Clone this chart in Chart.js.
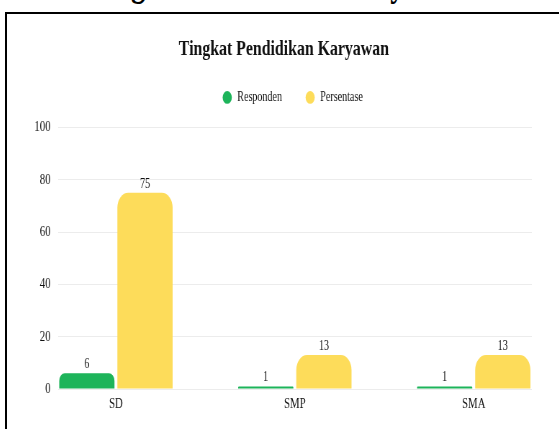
<!DOCTYPE html>
<html>
<head>
<meta charset="utf-8">
<script src="https://cdn.jsdelivr.net/npm/chart.js@4.4.1/dist/chart.umd.min.js"></script>
<style>
  body { margin: 0; width: 559px; height: 429px; overflow: hidden; background: #fff; position: relative; }
  #head {
    position: absolute; left: 0; top: -38px; width: 776px;
    transform: scaleX(0.72); transform-origin: 0 0;
    text-align: center; font: bold 40px/40px 'Liberation Serif', serif; color: #000; white-space: nowrap;
  }
  #box {
    position: absolute; left: 5px; top: 12px; width: 570px; height: 440px;
    border-top: 2px solid #000; border-left: 2px solid #000;
  }
  #inner { width: 767px; height: 415px; transform: scaleX(0.72); transform-origin: 0 0; }
</style>
</head>
<body>
<div id="head">Tingkat Pendidikan Karyawan</div>
<div id="box"><div id="inner"><canvas id="mycanvas"></canvas></div></div>
<script>
const categories = ['SD', 'SMP', 'SMA'];
const responden = [6, 1, 1];
const persentase = [75, 13, 13];
const yTicks = [0, 20, 40, 60, 80, 100];

Chart.defaults.font.family = "'Liberation Serif', serif";
Chart.defaults.color = '#111';

// value above each bar
const valueLabels = {
  id: 'valueLabels',
  afterDatasetsDraw(chart) {
    let ctx = chart.ctx;
    ctx.save();
    ctx.font = "14px 'Liberation Serif'";
    ctx.fillStyle = '#111';
    ctx.textAlign = 'center';
    ctx.textBaseline = 'alphabetic';
    chart.data.datasets.forEach((ds, i) => {
      chart.getDatasetMeta(i).data.forEach((bar, j) => {
        ctx.fillText(ds.data[j].y, bar.x, bar.y - 5);
      });
    });
    ctx.restore();
  }
};

// extra room under the legend, and nudge title + legend a bit right
const legendGap = {
  id: 'legendGap',
  beforeInit(chart) {
    let fit = chart.legend.fit;
    chart.legend.fit = function () {
      fit.call(this);
      this.height += 13;
    };
  },
  afterLayout(chart) {
    chart.legend.left += 18;
    chart.legend.right += 18;
    chart.titleBlock.left += 6;
    chart.titleBlock.right += 6;
  }
};

let chartData = {
  datasets: [
    {
      label: 'Responden',
      data: responden.map((v, i) => ({ x: i, y: v })),
      backgroundColor: '#1db45a',
      borderRadius: 15,
      borderSkipped: 'start',
      categoryPercentage: 0.65,
      barPercentage: 0.95
    },
    {
      label: 'Persentase',
      data: persentase.map((v, i) => ({ x: i, y: v })),
      backgroundColor: '#fddc5a',
      borderRadius: 15,
      borderSkipped: 'start',
      categoryPercentage: 0.65,
      barPercentage: 0.95
    }
  ]
};

let chartOptions = {
  responsive: true,
  maintainAspectRatio: false,
  animation: false,
  layout: { padding: { top: 10, left: 28, right: 38, bottom: 10 } },
  plugins: {
    title: {
      display: true,
      text: 'Tingkat Pendidikan Karyawan',
      color: '#111',
      font: { size: 22, weight: 'bold' },
      padding: { top: 12, bottom: -4 }
    },
    legend: {
      labels: {
        usePointStyle: true,
        pointStyle: 'circle',
        boxWidth: 14,
        boxHeight: 9,
        padding: 32,
        color: '#111',
        font: { size: 14 }
      }
    },
    tooltip: { enabled: false }
  },
  scales: {
    x: {
      type: 'linear',
      offset: false,
      min: -0.325,
      max: 2.325,
      grid: { display: false, drawTicks: false },
      border: { display: false },
      afterBuildTicks: (axis) => { axis.ticks = categories.map((c, i) => ({ value: i })); },
      ticks: {
        padding: 6,
        color: '#111',
        font: { size: 15 },
        callback: (v) => categories[v]
      }
    },
    y: {
      min: 0,
      max: 100,
      grid: { color: '#ececec', drawTicks: false },
      border: { display: false },
      afterBuildTicks: (axis) => { axis.ticks = yTicks.map(v => ({ value: v })); },
      ticks: { padding: 10, color: '#111', font: { size: 15 } }
    }
  }
};

new Chart(document.getElementById('mycanvas'), {
  type: 'bar',
  data: chartData,
  options: chartOptions,
  plugins: [valueLabels, legendGap]
});
</script>
</body>
</html>
